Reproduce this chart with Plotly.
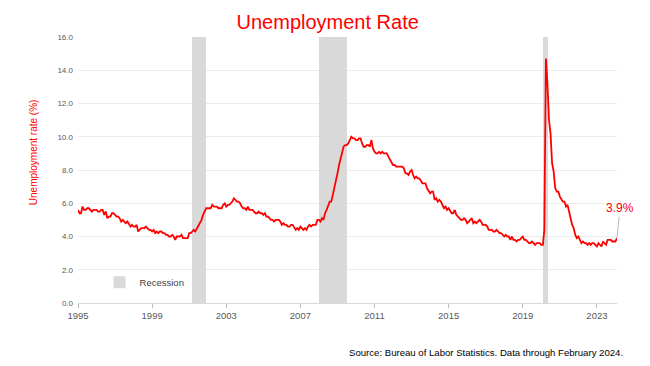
import pandas as pd
import plotly.graph_objects as go

# Monthly unemployment rate (%), Jan 1995 - Feb 2024
rate_1995 = [5.6, 5.4, 5.4, 5.8, 5.6, 5.6, 5.7, 5.7, 5.6, 5.5, 5.6, 5.6]
rate_1996 = [5.6, 5.5, 5.5, 5.6, 5.6, 5.3, 5.5, 5.1, 5.2, 5.2, 5.4, 5.4]
rate_1997 = [5.3, 5.2, 5.2, 5.1, 4.9, 5.0, 4.9, 4.8, 4.9, 4.7, 4.6, 4.7]
rate_1998 = [4.6, 4.6, 4.7, 4.3, 4.4, 4.5, 4.5, 4.5, 4.6, 4.5, 4.4, 4.4]
rate_1999 = [4.3, 4.4, 4.2, 4.3, 4.2, 4.3, 4.3, 4.2, 4.2, 4.1, 4.1, 4.0]
rate_2000 = [4.0, 4.1, 4.0, 3.8, 4.0, 4.0, 4.0, 4.1, 3.9, 3.9, 3.9, 3.9]
rate_2001 = [4.2, 4.2, 4.3, 4.4, 4.3, 4.5, 4.6, 4.9, 5.0, 5.3, 5.5, 5.7]
rate_2002 = [5.7, 5.7, 5.7, 5.9, 5.8, 5.8, 5.8, 5.7, 5.7, 5.7, 5.9, 6.0]
rate_2003 = [5.8, 5.9, 5.9, 6.0, 6.1, 6.3, 6.2, 6.1, 6.1, 6.0, 5.8, 5.7]
rate_2004 = [5.7, 5.6, 5.8, 5.6, 5.6, 5.6, 5.5, 5.4, 5.4, 5.5, 5.4, 5.4]
rate_2005 = [5.3, 5.4, 5.2, 5.2, 5.1, 5.0, 5.0, 4.9, 5.0, 5.0, 5.0, 4.9]
rate_2006 = [4.7, 4.8, 4.7, 4.7, 4.6, 4.6, 4.7, 4.7, 4.5, 4.4, 4.5, 4.4]
rate_2007 = [4.6, 4.5, 4.4, 4.5, 4.4, 4.6, 4.7, 4.6, 4.7, 4.7, 4.7, 5.0]
rate_2008 = [5.0, 4.9, 5.1, 5.0, 5.4, 5.6, 5.8, 6.1, 6.1, 6.5, 6.8, 7.3]
rate_2009 = [7.8, 8.3, 8.7, 9.0, 9.4, 9.5, 9.5, 9.6, 9.8, 10.0, 9.9, 9.9]
rate_2010 = [9.8, 9.8, 9.9, 9.9, 9.6, 9.4, 9.4, 9.5, 9.5, 9.4, 9.8, 9.3]
rate_2011 = [9.1, 9.0, 9.0, 9.1, 9.0, 9.1, 9.0, 9.0, 9.0, 8.8, 8.6, 8.5]
rate_2012 = [8.3, 8.3, 8.2, 8.2, 8.2, 8.2, 8.2, 8.1, 7.8, 7.8, 7.7, 7.9]
rate_2013 = [8.0, 7.7, 7.5, 7.6, 7.5, 7.5, 7.3, 7.2, 7.2, 7.2, 6.9, 6.7]
rate_2014 = [6.6, 6.7, 6.7, 6.2, 6.3, 6.1, 6.2, 6.1, 5.9, 5.7, 5.8, 5.6]
rate_2015 = [5.7, 5.5, 5.4, 5.4, 5.6, 5.3, 5.2, 5.1, 5.0, 5.0, 5.1, 5.0]
rate_2016 = [4.8, 4.9, 5.0, 5.1, 4.8, 4.9, 4.8, 4.9, 5.0, 4.9, 4.7, 4.7]
rate_2017 = [4.7, 4.6, 4.4, 4.4, 4.4, 4.3, 4.3, 4.4, 4.3, 4.2, 4.2, 4.1]
rate_2018 = [4.0, 4.1, 4.0, 4.0, 3.8, 4.0, 3.8, 3.8, 3.7, 3.8, 3.8, 3.9]
rate_2019 = [4.0, 3.8, 3.8, 3.7, 3.6, 3.6, 3.7, 3.6, 3.5, 3.6, 3.6, 3.6]
rate_2020 = [3.5, 3.5, 4.4, 14.7, 13.2, 11.0, 10.2, 8.4, 7.9, 6.9, 6.7, 6.7]
rate_2021 = [6.4, 6.2, 6.1, 6.1, 5.8, 5.9, 5.4, 5.1, 4.7, 4.5, 4.1, 3.9]
rate_2022 = [4.0, 3.8, 3.6, 3.7, 3.6, 3.6, 3.5, 3.6, 3.5, 3.6, 3.6, 3.5]
rate_2023 = [3.4, 3.6, 3.5, 3.4, 3.7, 3.6, 3.5, 3.8, 3.8, 3.8, 3.7, 3.7]
rate_2024 = [3.7, 3.9]

rates = (rate_1995 + rate_1996 + rate_1997 + rate_1998 + rate_1999 + rate_2000 +
         rate_2001 + rate_2002 + rate_2003 + rate_2004 + rate_2005 + rate_2006 +
         rate_2007 + rate_2008 + rate_2009 + rate_2010 + rate_2011 + rate_2012 +
         rate_2013 + rate_2014 + rate_2015 + rate_2016 + rate_2017 + rate_2018 +
         rate_2019 + rate_2020 + rate_2021 + rate_2022 + rate_2023 + rate_2024)
start_month = "1995-01-01"
dates = pd.date_range(start_month, periods=len(rates), freq="MS")

# Recession periods
rec_start = ["2001-03-01", "2008-01-01", "2020-02-01"]
rec_end = ["2001-12-01", "2009-07-01", "2020-05-20"]
rec_top = [16, 16, 16]

x_tick_labels = ["1995", "1999", "2003", "2007", "2011", "2015", "2019", "2023"]
y_tick_values = [0, 2, 4, 6, 8, 10, 12, 14, 16]

rs = pd.to_datetime(rec_start)
re_ = pd.to_datetime(rec_end)
rec_mid = rs + (re_ - rs) / 2
rec_width = [(e - s).total_seconds() * 1000 for s, e in zip(rs, re_)]

fig = go.Figure()
fig.add_trace(go.Bar(
    x=rec_mid, y=rec_top, width=rec_width, base=0,
    marker=dict(color="#D9D9D9", line=dict(width=0)),
    name="Recession", showlegend=True, hoverinfo="skip",
))
fig.add_trace(go.Scatter(
    x=dates, y=rates, mode="lines",
    line=dict(color="#FF0000", width=1.8),
    name="Unemployment rate", showlegend=False,
))

fig.add_annotation(
    x=dates[-1], y=rates[-1], text=f"{rates[-1]:.1f}%",
    showarrow=True, arrowhead=0, arrowwidth=0.8, arrowcolor="#A6A6A6",
    ax=3, ay=-30, font=dict(color="#FF0000", size=12, family="Liberation Sans"),
)
fig.add_annotation(
    xref="paper", yref="paper", x=-0.0835, y=0.567,
    text="Unemployment rate (%)", textangle=-90, showarrow=False,
    xanchor="center", yanchor="middle",
    font=dict(color="#FF0000", size=10, family="Liberation Sans"),
)
fig.add_annotation(
    xref="paper", yref="paper", x=1.0148, y=-0.1855,
    text="Source: Bureau of Labor Statistics. Data through February 2024.",
    showarrow=False, xanchor="right", yanchor="middle",
    font=dict(color="#000000", size=9.6, family="Liberation Sans"),
)

fig.update_layout(
    width=642, height=358, autosize=False,
    margin=dict(l=70, r=33, t=29, b=63),
    paper_bgcolor="white", plot_bgcolor="white",
    title=dict(text="Unemployment Rate", x=0.498, xanchor="center",
               y=0.962, yanchor="middle",
               font=dict(color="#FF0000", size=20, family="Liberation Sans")),
    bargap=0,
    legend=dict(x=0.04, y=0.078, xanchor="left", yanchor="middle",
                bgcolor="rgba(0,0,0,0)",
                font=dict(color="#404040", size=9.5, family="Liberation Sans")),
    xaxis=dict(
        type="date", range=[start_month, "2024-02-01"],
        tickmode="array",
        tickvals=[pd.Timestamp(f"{y}-01-01") for y in x_tick_labels],
        ticktext=x_tick_labels,
        ticks="outside", ticklen=4, tickcolor="#BFBFBF",
        showline=True, linecolor="#D9D9D9", linewidth=1,
        showgrid=False, zeroline=False,
        tickfont=dict(color="#595959", size=9.5, family="Liberation Sans"),
    ),
    yaxis=dict(
        range=[0, 16], tickmode="array", tickvals=y_tick_values,
        tickformat=".1f", showgrid=True, gridcolor="#EBEBEB", gridwidth=1,
        zeroline=False, ticks="", ticklabelstandoff=4,
        tickfont=dict(color="#595959", size=8, family="Liberation Sans"),
    ),
)

fig.write_html("out.html")
